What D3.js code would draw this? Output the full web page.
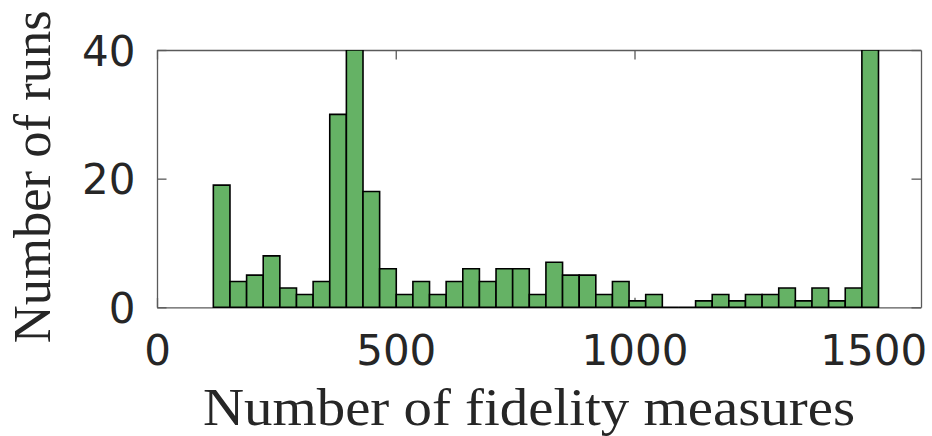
<!DOCTYPE html>
<html>
<head>
<meta charset="utf-8">
<script src="https://cdn.jsdelivr.net/npm/d3@7"></script>
<style>
  html, body { margin: 0; padding: 0; background: #fff; }
  svg { display: block; }
</style>
</head>
<body>
<svg id="chart" width="932" height="436"></svg>
<script>
// Histogram: number of runs per number of fidelity measures (40 equal-width bins)
const binMin = 118;
const binMax = 1511;
const counts = [19, 4, 5, 8, 3, 2, 4, 30, 40, 18,
                6, 2, 4, 2, 4, 6, 4, 6, 6, 2,
                7, 5, 5, 2, 4, 1, 2, 0, 0, 1,
                2, 1, 2, 2, 3, 1, 3, 1, 3, 40];
const xTicks = [0, 500, 1000, 1500];
const yTicks = [0, 20, 40];
const xDomain = [0, 1600];
const yDomain = [0, 40];
const xLabel = "Number of fidelity measures";
const yLabel = "Number of runs";

(function () {
  const svg = d3.select("#chart");
  const mLeft = 157, mRight = 921, mTop = 50, mBottom = 307.3;

  const x = d3.scaleLinear().domain(xDomain).range([mLeft, mRight]);
  const y = d3.scaleLinear().domain(yDomain).range([mBottom, mTop]);

  const binW = (binMax - binMin) / counts.length;
  const bins = counts.map((c, i) => ({ x0: binMin + i * binW, x1: binMin + (i + 1) * binW, n: c }));

  svg.append("clipPath").attr("id", "plotClip")
    .append("rect").attr("x", mLeft - 2).attr("y", mTop)
    .attr("width", mRight - mLeft + 4).attr("height", mBottom - mTop + 2);

  // axes (inward ticks, mirrored on the top and right)
  const axisColor = "#5a5a5a";
  const tickLen = 9.5;
  const fmt = d3.format("d");
  const gx = svg.append("g").attr("transform", `translate(0,${mBottom})`)
    .call(d3.axisBottom(x).tickValues(xTicks).tickFormat(fmt).tickSize(-tickLen).tickPadding(tickLen + 18).tickSizeOuter(0));
  const gxTop = svg.append("g").attr("transform", `translate(0,${mTop})`)
    .call(d3.axisTop(x).tickValues(xTicks).tickSize(-tickLen).tickFormat("").tickSizeOuter(0));
  const gy = svg.append("g").attr("transform", `translate(${mLeft},0)`)
    .call(d3.axisLeft(y).tickValues(yTicks).tickFormat(fmt).tickSize(-tickLen).tickPadding(tickLen + 12).tickSizeOuter(0));
  const gyRight = svg.append("g").attr("transform", `translate(${mRight},0)`)
    .call(d3.axisRight(y).tickValues(yTicks).tickSize(-tickLen).tickFormat("").tickSizeOuter(0));

  [gx, gxTop, gy, gyRight].forEach(g => {
    g.selectAll(".domain").attr("stroke", axisColor).attr("stroke-width", 1.3);
    g.selectAll(".tick line").attr("stroke", axisColor).attr("stroke-width", 1.3);
    g.selectAll(".tick text")
      .attr("fill", "#262626")
      .attr("font-family", "DejaVu Sans")
      .attr("font-size", 42);
  });
  gx.selectAll(".tick text").attr("dy", "0.71em");
  gy.selectAll(".tick text").attr("dy", "0.36em");

  // bars as closed paths so that empty bins still show their outline on the baseline
  svg.append("g").attr("clip-path", "url(#plotClip)")
    .selectAll("path").data(bins).join("path")
    .attr("d", d => {
      const p = d3.path();
      p.rect(x(d.x0), y(d.n), x(d.x1) - x(d.x0), y(0) - y(d.n));
      return p.toString();
    })
    .attr("fill", "#65b265")
    .attr("stroke", "#000")
    .attr("stroke-width", 1.6);

  // axis titles
  svg.append("text")
    .attr("x", 529).attr("y", 425)
    .attr("text-anchor", "middle")
    .attr("font-family", "Liberation Serif")
    .attr("font-size", 52)
    .attr("fill", "#262626")
    .attr("textLength", 652)
    .attr("lengthAdjust", "spacingAndGlyphs")
    .text(xLabel);

  svg.append("text")
    .attr("transform", "translate(50,176.7) rotate(-90)")
    .attr("text-anchor", "middle")
    .attr("font-family", "Liberation Serif")
    .attr("font-size", 52)
    .attr("fill", "#262626")
    .attr("textLength", 333)
    .attr("lengthAdjust", "spacingAndGlyphs")
    .text(yLabel);
})();
</script>
</body>
</html>
